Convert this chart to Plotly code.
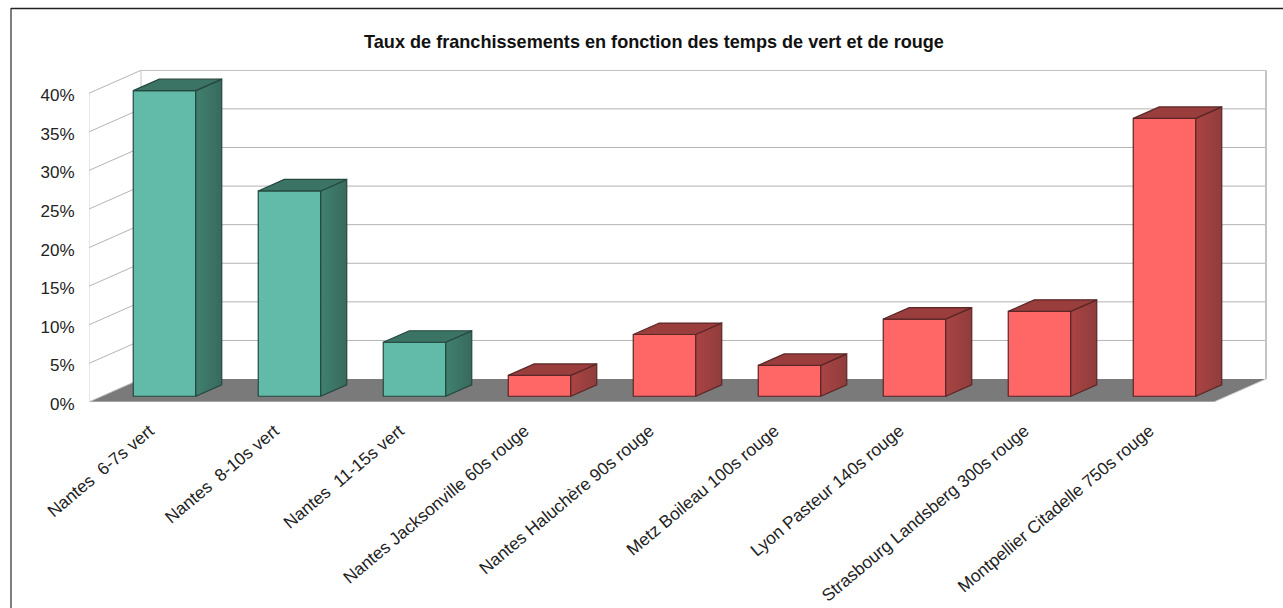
import plotly.graph_objects as go

categories = ["Nantes  6-7s vert", "Nantes  8-10s vert", "Nantes  11-15s vert",
              "Nantes Jacksonville 60s rouge", "Nantes Haluchère 90s rouge",
              "Metz Boileau 100s rouge", "Lyon Pasteur 140s rouge",
              "Strasbourg Landsberg 300s rouge", "Montpellier Citadelle 750s rouge"]
values = [39.6, 26.6, 7.0, 2.7, 8.0, 4.0, 10.0, 11.0, 36.0]
kinds = ["vert", "vert", "vert", "rouge", "rouge", "rouge", "rouge", "rouge", "rouge"]
y_ticks = [0, 5, 10, 15, 20, 25, 30, 35, 40]
title = "Taux de franchissements en fonction des temps de vert et de rouge"

front = {"vert": "#62baa8", "rouge": "#ff6666"}
top = {"vert": "#3b7365", "rouge": "#993d3d"}
side_a = {"vert": "#40806f", "rouge": "#aa4444"}
side_b = {"vert": "#386a5d", "rouge": "#903c3c"}
edge = {"vert": "#24483f", "rouge": "#5a2626"}

W, H = 1283, 608
L, R, T, B = 89, 1268, 70, 402.5
PX_X, PX_Y = 125.0, 7.73
DX, DY = 52 / PX_X, 23 / PX_Y
X0, X1 = -0.5, -0.5 + (R - L) / PX_X
Y1 = (B - T) / PX_Y
N = len(categories)
HALF = 0.25
D0, D1 = 0.25, 0.75


def proj(x, y, d):
    return x + d * DX, y + d * DY


def poly(pts):
    xy = [proj(*p) for p in pts]
    xs = [a for a, _ in xy]
    ys = [b for _, b in xy]
    return xs + xs[:1], ys + ys[:1]


def path(pts):
    xy = [proj(*p) for p in pts]
    return "M " + " L ".join(f"{a},{b}" for a, b in xy) + " Z"


GRID = "#b4b4b4"
shapes = []


def line(p, q, color=GRID, width=1):
    a, b = proj(*p), proj(*q)
    shapes.append(dict(type="line", xref="x", yref="y", layer="below", x0=a[0], y0=a[1], x1=b[0], y1=b[1],
                       line=dict(color=color, width=width)))


XE = X0 + N
shapes.append(dict(type="path", xref="x", yref="y", layer="below",
                   path=path([(X0, 0, 0), (XE, 0, 0), (XE, 0, 1), (X0, 0, 1)]),
                   fillcolor="#7a7a7a", line=dict(width=0)))
for t in y_ticks:
    if t > 0:
        line((X0, t, 1), (XE, t, 1))
    line((X0, t, 0), (X0, t, 1))
line((X0, 0, 0), (X0, 40, 0), "#cfcfcf")
line((X0, 0, 1), (X0, 40, 1), "#c4c4c4")
line((XE, 0, 1), (XE, 40, 1), "#c4c4c4", 2)
line((X0, 0, 0), (XE, 0, 0), "#cfcfcf")
line((XE, 0, 0), (XE, 0, 1), "#cfcfcf")

# outer frame of the picture
shapes.append(dict(type="line", xref="paper", yref="paper",
                   x0=(11 - L) / (R - L), x1=(11 - L) / (R - L),
                   y0=(B - 620) / (B - T), y1=(B - 8) / (B - T),
                   line=dict(color="#555555", width=1.5)))
shapes.append(dict(type="line", xref="paper", yref="paper",
                   x0=(11 - L) / (R - L), x1=(1283 - L) / (R - L),
                   y0=(B - 8.5) / (B - T), y1=(B - 8.5) / (B - T),
                   line=dict(color="#222222", width=1.5)))

fig = go.Figure()
fig.add_trace(go.Bar(
    x=[proj(i, 0, D0)[0] for i in range(N)],
    y=values,
    base=[proj(0, 0, D0)[1]] * N,
    width=HALF * 2,
    marker=dict(color=[front[k] for k in kinds],
                line=dict(color=[edge[k] for k in kinds], width=1.2)),
    hoverinfo="skip",
))

for i, (v, k) in enumerate(zip(values, kinds)):
    sx, sy = poly([(i + HALF, 0, D0), (i + HALF, v, D0), (i + HALF, v, D1), (i + HALF, 0, D1)])
    fig.add_trace(go.Scatter(x=sx, y=sy, mode="lines", fill="toself",
                             fillgradient=dict(type="horizontal",
                                               colorscale=[[0, side_a[k]], [1, side_b[k]]]),
                             line=dict(color=edge[k], width=1.2), hoverinfo="skip"))
    tx, ty = poly([(i - HALF, v, D0), (i + HALF, v, D0), (i + HALF, v, D1), (i - HALF, v, D1)])
    fig.add_trace(go.Scatter(x=tx, y=ty, mode="lines", fill="toself", fillcolor=top[k],
                             line=dict(color=edge[k], width=1.2), hoverinfo="skip"))

fig.update_layout(
    width=W, height=H, autosize=False,
    margin=dict(l=L, r=W - R, t=T, b=H - B, pad=0),
    paper_bgcolor="white", plot_bgcolor="white",
    showlegend=False, hovermode=False, shapes=shapes,
    font=dict(family="Liberation Sans, Arial, sans-serif", color="#222222"),
    title=dict(text=f"<b>{title}</b>", x=654 / W, xanchor="center", y=1 - 42 / H, yanchor="middle",
               automargin=False, font=dict(size=18.1, color="#111111")),
    xaxis=dict(range=[X0, X1], tickmode="array", tickvals=list(range(N)), ticktext=categories,
               automargin=False, tickangle=-40, tickfont=dict(size=17.4), showgrid=False, zeroline=False,
               showline=False, ticks="outside", ticklen=11, ticklabelshift=-2, tickcolor="rgba(0,0,0,0)",
               fixedrange=True),
    yaxis=dict(range=[0, Y1], tickmode="array", tickvals=y_ticks, ticktext=[f"{t}%" for t in y_ticks],
               automargin=False, tickfont=dict(size=17), showgrid=False, zeroline=False, showline=False,
               ticks="outside", ticklen=10, ticklabelshift=2, tickcolor="rgba(0,0,0,0)", fixedrange=True),
)

fig.write_html("out.html", config=dict(displayModeBar=False),
               post_script="document.body.style.margin='0';")
